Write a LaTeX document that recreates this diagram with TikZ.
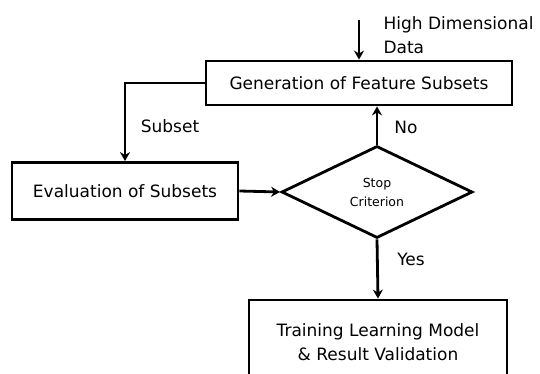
\documentclass[tikz,border=0pt]{standalone}
\usepackage{fontspec}
\setmainfont{DejaVu Sans}
\usetikzlibrary{shapes.geometric,arrows.meta}

\begin{document}
\begin{tikzpicture}[x=1pt,y=-1pt,
  box/.style={draw,line width=2.8pt,rectangle,inner sep=0pt,font=\fontsize{17}{24}\selectfont},
  arr/.style={line width=2.8pt,-{Stealth[length=9pt,width=10pt]}},
  lbl/.style={font=\fontsize{17}{24}\selectfont}]

 \useasboundingbox (0,0) rectangle (540,374);

 \node[box,minimum width=306pt,minimum height=44pt] (gen) at (359,83) {Generation of Feature Subsets};
 \node[box,minimum width=226pt,minimum height=57pt] (eval) at (125,191) {Evaluation of Subsets};
 \node[draw,line width=2.8pt,diamond,inner sep=0pt,minimum width=191pt,minimum height=92pt,
       align=center,font=\fontsize{12.5}{19}\selectfont] (stop) at (377,192) {Stop\\Criterion};
 \node[box,minimum width=258pt,minimum height=84pt,align=center] (train) at (378,342) {Training Learning Model\\\& Result Validation};

 % input data
 \coordinate (src) at (359,20);
 \draw[arr] (src) -- (gen);
 \node[lbl,anchor=west,align=left] (data) at (380,35) {High Dimensional\\Data};

 % loop
 \draw[arr] (gen.west) -| (eval.north);
 \node[lbl] (sub) at (170,126) {Subset};
 \draw[arr] (eval.east) -- (stop.west);
 \draw[arr] (stop.north) -- (stop.north |- gen.south);
 \node[lbl] (no) at (406,127) {No};

 % exit
 \draw[arr] (stop.south) -- (train.north);
 \node[lbl] (yes) at (411,259) {Yes};

\end{tikzpicture}
\end{document}
